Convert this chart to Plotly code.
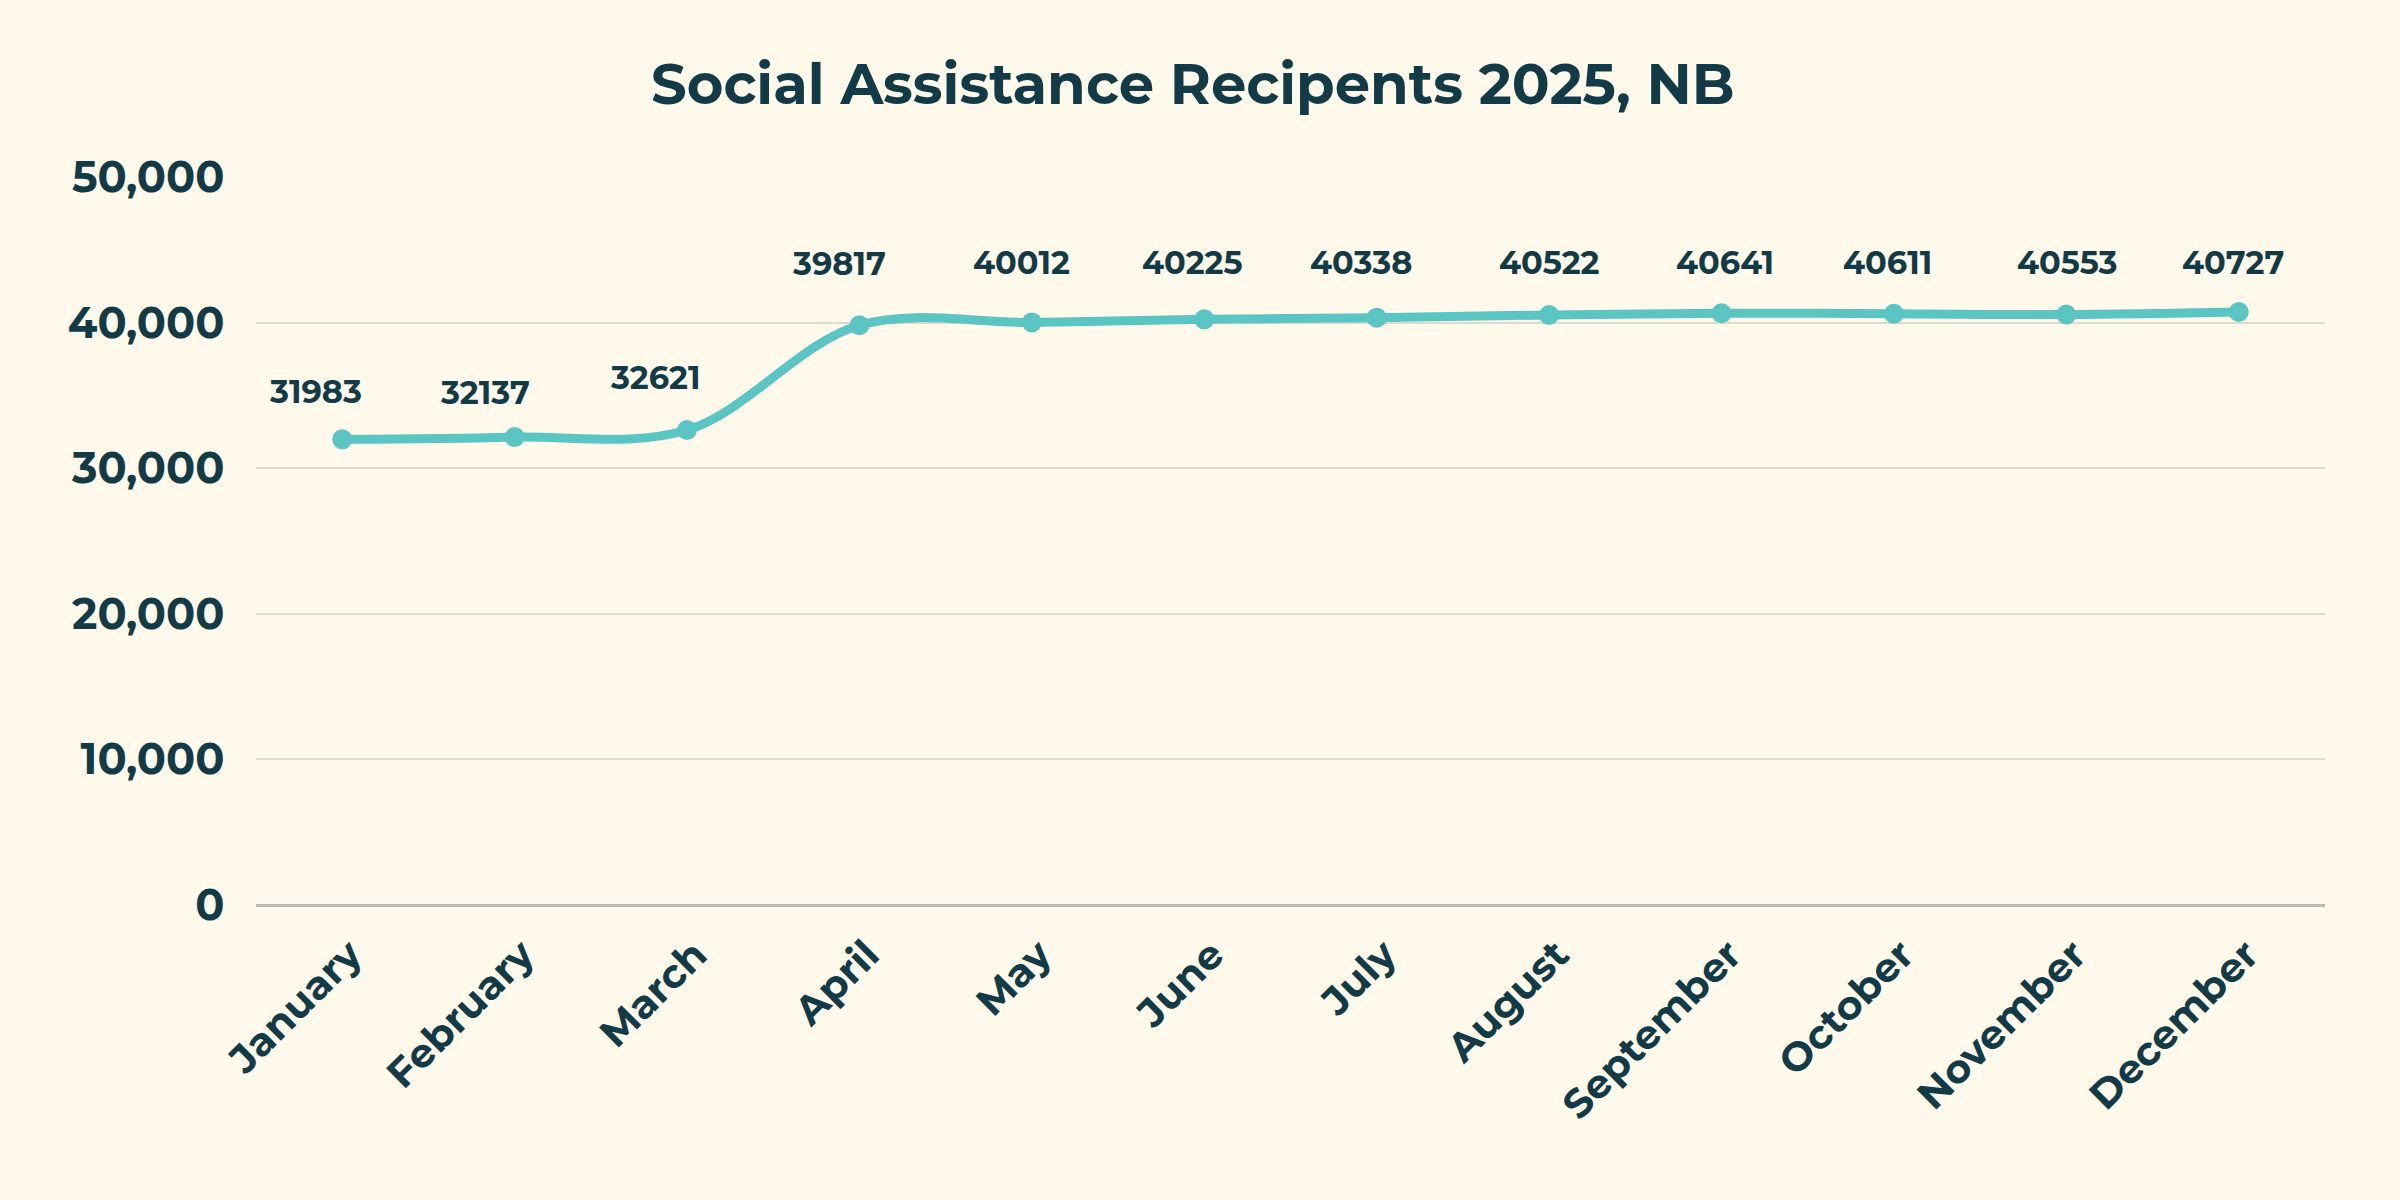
import plotly.graph_objects as go

months = ["January", "February", "March", "April", "May", "June", "July",
          "August", "September", "October", "November", "December"]
recipients = [31983, 32137, 32621, 39817, 40012, 40225, 40338,
              40522, 40641, 40611, 40553, 40727]
y_ticks = [0, 10000, 20000, 30000, 40000, 50000]
y_tick_labels = ["0", "10,000", "20,000", "30,000", "40,000", "50,000"]
title = "Social Assistance Recipents 2025, NB"

# label nudges (pixels), style only
label_dx = [-27, -30, -32, -20, -10, -12, -16, 0, 3, -6, 1, -6]
label_dy = [48, 45, 53, 62, 60, 57, 55, 53, 51, 51, 52, 50]

BG = "#fef9ea"
TXT = "#133b47"
LINE = "#5bc5c4"
FONT = "Montserrat, Lato, 'Open Sans', sans-serif"
CLEAR = "rgba(0,0,0,0)"

fig = go.Figure()
fig.add_trace(go.Scatter(
    x=months, y=recipients,
    mode="lines+markers",
    line=dict(color=LINE, width=9, shape="spline", smoothing=1.0),
    marker=dict(color=LINE, size=20),
    hoverinfo="skip",
))

for m, v, dx, dy in zip(months, recipients, label_dx, label_dy):
    fig.add_annotation(
        x=m, y=v, text=str(v), showarrow=False,
        xshift=dx, yshift=dy, yanchor="middle", xanchor="center",
        font=dict(family=FONT, size=32, color=TXT, weight="bold"),
    )

fig.update_layout(
    width=2400, height=1200,
    paper_bgcolor=BG, plot_bgcolor=BG,
    margin=dict(l=256, r=75, t=177, b=295, autoexpand=False),
    showlegend=False,
    title=dict(text=title, x=0.497, xanchor="center", y=0.93, yanchor="middle",
               font=dict(family=FONT, size=56, color=TXT, weight="bold")),
    font=dict(family=FONT, color=TXT),
)
fig.update_xaxes(
    range=[-0.5, 11.5],
    tickangle=-45,
    tickfont=dict(family=FONT, size=40, color=TXT, weight="bold"),
    showgrid=False, showline=False, zeroline=False,
    ticks="outside", ticklen=9, tickcolor=CLEAR,
    ticklabelshift=8,
)
fig.update_yaxes(
    range=[0, 50000],
    tickvals=y_ticks, ticktext=y_tick_labels,
    tickfont=dict(family=FONT, size=43, color=TXT, weight="bold"),
    showgrid=True, gridcolor="#dcdccd", gridwidth=1.5,
    zeroline=True, zerolinecolor="#b5bfb5", zerolinewidth=2.5,
    ticks="outside", ticklen=22, tickcolor=CLEAR,
    showline=False,
)

fig.write_html("out.html", config={"displayModeBar": False},
               post_script="document.body.style.margin='0';")
